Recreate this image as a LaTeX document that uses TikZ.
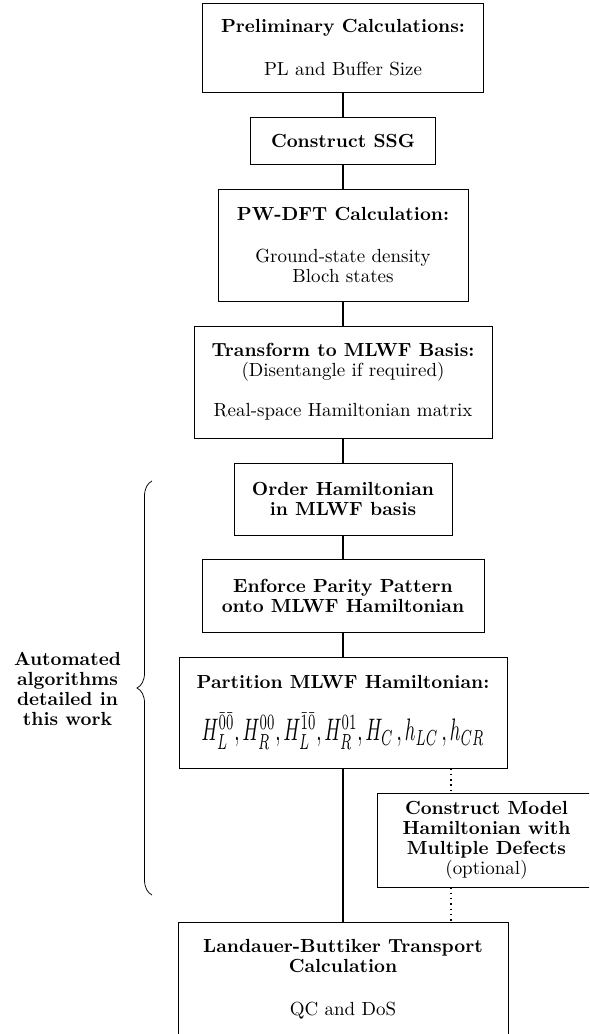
\documentclass[tikz,border=0pt]{standalone}
\usepackage{graphicx}
\usetikzlibrary{decorations.pathreplacing}

\begin{document}
\begin{tikzpicture}[x=0.527pt, y=-0.527pt, font=\fontsize{10}{10.5}\selectfont]

    % Stile
    \tikzset{
      stepbox/.style={draw, align=center, inner sep=0pt},
      link/.style={thick},
      optlink/.style={thick, dotted},
    }

    % Rahmen (Bild ist unten und rechts abgeschnitten)
    \useasboundingbox (0,0) rectangle (589,1034);
    \clip (0,0) rectangle (589,1034);

    % Arbeitsschritte
    \node[stepbox, minimum width=148.1pt, minimum height=46.9pt] (prelim) at (343, 47.5)
        {\textbf{Preliminary Calculations:}\\[12pt] PL and Buffer Size};
    \node[stepbox, minimum width=97.5pt, minimum height=24.8pt] (ssg) at (343, 140.5)
        {\textbf{Construct SSG}};
    \node[stepbox, minimum width=131.8pt, minimum height=59pt] (dft) at (343, 245)
        {\textbf{PW-DFT Calculation:}\\[12pt] Ground-state density\\ Bloch states};
    \node[stepbox, minimum width=157pt, minimum height=59pt] (mlwf) at (343, 382)
        {\textbf{Transform to MLWF Basis:}\\ (Disentangle if required)\\[10.5pt] Real-space Hamiltonian matrix};
    \node[stepbox, minimum width=114.9pt, minimum height=37.9pt] (order) at (343, 499)
        {\textbf{Order Hamiltonian}\\ \textbf{in MLWF basis}};
    \node[stepbox, minimum width=148.6pt, minimum height=38.5pt] (parity) at (343, 596)
        {\textbf{Enforce Parity Pattern}\\ \textbf{onto MLWF Hamiltonian}};
    \node[stepbox, minimum width=172.9pt, minimum height=58.5pt] (partition) at (343, 712.5)
        {\textbf{Partition MLWF Hamiltonian:}\\[11.5pt]
         \scalebox{0.98}[1.64]{$H_L^{\bar0\bar0},H_R^{00},H_L^{\bar1\bar0},H_R^{01},H_C\,,h_{LC}\,,h_{CR}$}};
    \node[stepbox, minimum width=114.9pt, minimum height=49.5pt] (model) at (486.5, 840)
        {\textbf{Construct Model}\\ \textbf{Hamiltonian with}\\ \textbf{Multiple Defects}\\ (optional)};
    \node[stepbox, minimum width=173.9pt, minimum height=60.1pt] (transport) at (343, 979.5)
        {\textbf{Landauer-Buttiker Transport}\\ \textbf{Calculation}\\[12pt] QC and DoS};

    % Verbindungen
    \draw[link] (prelim) -- (ssg);
    \draw[link] (ssg) -- (dft);
    \draw[link] (dft) -- (mlwf);
    \draw[link] (mlwf) -- (order);
    \draw[link] (order) -- (parity);
    \draw[link] (parity) -- (partition);
    \draw[link] (partition) -- (transport);

    % optionaler Zweig
    \coordinate (optx) at (451, 0);
    \draw[optlink] (partition.south -| optx) -- (model.north -| optx);
    \draw[optlink] (model.south -| optx) -- (transport.north -| optx);

    % Klammer mit Beschriftung
    \coordinate (bracebot) at (152, 895);
    \coordinate (bracetop) at (152, 481);
    \draw[decorate, decoration={brace, amplitude=7.9pt}] (bracebot) -- (bracetop);
    \node[align=center] (autolabel) at (67.5, 689)
        {\textbf{Automated}\\ \textbf{algorithms}\\ \textbf{detailed in}\\ \textbf{this work}};

\end{tikzpicture}
\end{document}
